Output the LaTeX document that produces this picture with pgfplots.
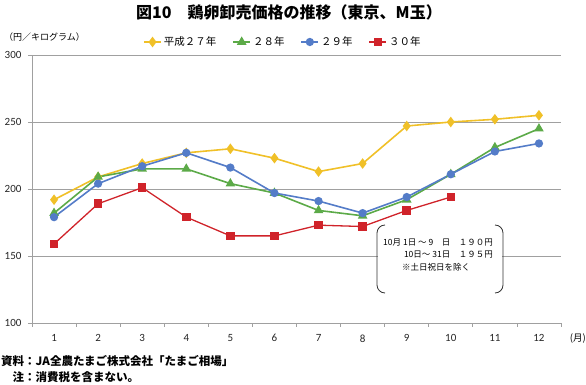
\documentclass[border=0pt]{standalone}
\usepackage{fontspec}
\setmainfont{Noto Sans CJK JP}
\newfontfamily\num{Carlito}
\usepackage{pgfplots}
\pgfplotsset{compat=1.18}
\definecolor{cY}{RGB}{240,192,40}
\definecolor{cG}{RGB}{92,170,72}
\definecolor{cB}{RGB}{84,124,200}
\definecolor{cR}{RGB}{208,35,42}
\definecolor{axg}{RGB}{160,160,160}
\begin{document}
\begin{tikzpicture}
\path[use as bounding box] (0,0) rectangle (586pt,385pt);
\begin{axis}[
  at={(32pt,62pt)}, anchor=south west,
  scale only axis, width=529pt, height=268pt,
  xmin=0.5, xmax=12.5, ymin=100, ymax=300,
  xtick={1,...,12}, ytick={100,150,200,250,300},
  minor xtick={0.5,1.5,...,12.5},
  every major x tick/.style={draw=none},
  major tick length=4pt, minor tick length=4pt,
  tick align=outside,
  axis x line*=bottom, axis y line*=left,
  axis line style={axg, line width=0.8pt, -},
  tick style={axg, line width=0.8pt},
  ymajorgrids, grid style={axg, line width=0.8pt},
  /pgf/number format/assume math mode=true,
  tick label style={font=\num\fontsize{11}{13}\selectfont, text=black!85},
  yticklabel style={xshift=-3pt},
  xticklabel style={yshift=-4pt},
  legend columns=4,
  legend style={at={(0.2098,1.0485)}, anchor=west, draw=none, fill=none, inner sep=0pt,
    font=\fontsize{10.5}{12}\selectfont,
    /tikz/every even column/.append style={column sep=14pt}},
]
\addplot[cY, line width=1.6pt, mark=diamond*, mark size=4pt, mark options={fill=cY}] coordinates {
(1,192) (2,209) (3,219) (4,227) (5,230) (6,223) (7,213) (8,219) (9,247) (10,250) (11,252) (12,255)};
\addlegendentry{平成２７年}
\addplot[cG, line width=1.6pt, mark=triangle*, mark size=4pt, mark options={fill=cG}] coordinates {
(1,182) (2,209) (3,215) (4,215) (5,204) (6,197) (7,184) (8,180) (9,192) (10,211) (11,231) (12,245)};
\addlegendentry{２８年}
\addplot[cB, line width=1.6pt, mark=*, mark size=3.3pt, mark options={fill=cB}] coordinates {
(1,179) (2,204) (3,217) (4,227) (5,216) (6,197) (7,191) (8,182) (9,194) (10,211) (11,228) (12,234)};
\addlegendentry{２９年}
\addplot[cR, line width=1.3pt, mark=square*, mark size=3.6pt, mark options={fill=cR}] coordinates {
(1,159) (2,189) (3,201) (4,179) (5,165) (6,165) (7,173) (8,172) (9,184) (10,194)};
\addlegendentry{３０年}
\end{axis}
% title and labels
\node[font=\bfseries\fontsize{16}{18}\selectfont] at (289pt,373pt) {図10　鶏卵卸売価格の推移（東京、M玉）};
\node[anchor=west, font=\fontsize{9}{10}\selectfont, inner sep=0pt] at (4pt,348pt) {（円／キログラム）};
\node[anchor=east, font=\fontsize{9.5}{10}\selectfont, inner sep=0pt] at (586pt,46pt) {(月)};
% annotation box
\fill[white] (378pt,92pt) rectangle (502pt,160pt);
\draw[black!80, line width=0.8pt] (385pt,160pt) to[out=180,in=90] (377pt,152pt) -- (377pt,100pt) to[out=-90,in=180] (385pt,92pt);
\draw[black!80, line width=0.8pt] (495pt,160pt) to[out=0,in=90] (503pt,152pt) -- (503pt,100pt) to[out=-90,in=0] (495pt,92pt);
\node[anchor=east, font=\fontsize{8.5}{10}\selectfont, inner sep=0pt] at (493pt,142pt) {10月 1日 ～ 9　日　１９０円};
\node[anchor=east, font=\fontsize{8.5}{10}\selectfont, inner sep=0pt] at (493pt,130pt) {10日～ 31日　１９５円};
\node[anchor=west, font=\fontsize{8.5}{10}\selectfont, inner sep=0pt] at (402pt,118pt) {※土日祝日を除く};
% notes
\node[anchor=north west, inner sep=0pt, font=\bfseries\fontsize{11.5}{16}\selectfont] at (1pt,31pt) {%
\begin{tabular}{@{}r@{}l@{}}資料&：JA全農たまご株式会社「たまご相場」\\注&：消費税を含まない。\end{tabular}};
\end{tikzpicture}
\end{document}
